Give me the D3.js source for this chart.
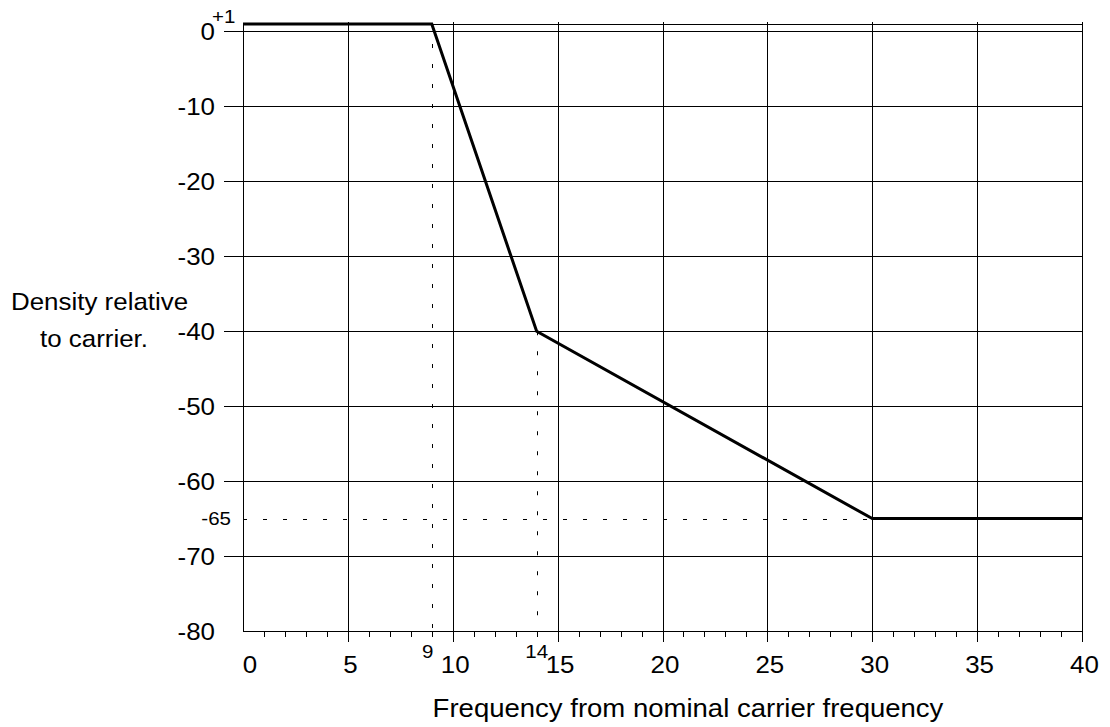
<!DOCTYPE html>
<html>
<head>
<meta charset="utf-8">
<script src="https://cdn.jsdelivr.net/npm/d3@7"></script>
<style>
  body { margin: 0; background: #fff; }
  text { font-family: "Liberation Sans", Arial, sans-serif; fill: #000; }
</style>
</head>
<body>
<div id="chart"></div>
<script>
// Spectral mask: frequency offset vs relative density
const freqs = [0, 9, 14, 30, 40];
const density = [1, 1, -40, -65, -65];

const xTicks = [0, 5, 10, 15, 20, 25, 30, 35, 40];
const yTicks = [0, -10, -20, -30, -40, -50, -60, -70, -80];
const markX = [9, 14];
const markY = [-65];

const W = 1110, H = 727;
const margin = {top: 24, right: 28, bottom: 96, left: 243};
const stretch = 1.08; // the reference text is a little wider than plain Arial

const svg = d3.select("#chart").append("svg")
    .attr("width", W)
    .attr("height", H);

const x = d3.scaleLinear().domain([0, 40]).range([margin.left, W - margin.right]);
const y = d3.scaleLinear().domain([-80, 1]).range([H - margin.bottom, margin.top]);

const px = v => Math.round(v) + 0.5;

// place a text with a horizontal stretch around its anchor point
function label(g, tx, ty, str, size, anchor) {
    return g.append("text")
        .attr("transform", "translate(" + tx + "," + ty + ") scale(" + stretch + ",1)")
        .attr("text-anchor", anchor || "start")
        .attr("font-size", size)
        .text(str);
}

// vertical grid lines (every 5) with tick extending below axis
svg.append("g").selectAll("line")
    .data(xTicks.filter(d => d > 0))
    .join("line")
    .attr("x1", d => px(x(d))).attr("x2", d => px(x(d)))
    .attr("y1", y(1) - 2).attr("y2", y(-80) + 11)
    .attr("stroke", "#000").attr("stroke-width", 1);

// minor ticks every 1
svg.append("g").selectAll("line")
    .data(d3.range(1, 40).filter(d => d % 5 !== 0))
    .join("line")
    .attr("x1", d => px(x(d))).attr("x2", d => px(x(d)))
    .attr("y1", y(-80)).attr("y2", y(-80) + 6)
    .attr("stroke", "#000");

// horizontal grid lines with tick extending left
svg.append("g").selectAll("line")
    .data(yTicks.filter(d => d > -80).concat([1]))
    .join("line")
    .attr("x1", d => d === 1 ? x(0) : x(0) - 19).attr("x2", x(40) + 1)
    .attr("y1", d => px(y(d))).attr("y2", d => px(y(d)))
    .attr("stroke", "#000");

// axes frame
svg.append("line")
    .attr("x1", px(x(0))).attr("x2", px(x(0)))
    .attr("y1", y(1)).attr("y2", px(y(-80)))
    .attr("stroke", "#000");
svg.append("line")
    .attr("x1", x(0)).attr("x2", x(40) + 1)
    .attr("y1", px(y(-80))).attr("y2", px(y(-80)))
    .attr("stroke", "#000");

// y tick labels
const yLab = svg.append("g");
yTicks.forEach(d => label(yLab, 215, y(d) + 9, d, 24, "end"));

// x tick labels
const xLab = svg.append("g");
xTicks.forEach(d => label(xLab, x(d) + (d === 0 ? 7 : 2.5), 673, d, 24, "middle"));

// dashed reference lines
svg.append("line")
    .attr("x1", px(x(9))).attr("x2", px(x(9)))
    .attr("y1", y(1)).attr("y2", y(-80))
    .attr("stroke", "#000").attr("stroke-dasharray", "4,16");
svg.append("line")
    .attr("x1", px(x(14))).attr("x2", px(x(14)))
    .attr("y1", y(-40)).attr("y2", y(-80))
    .attr("stroke", "#000").attr("stroke-dasharray", "4,16");
svg.append("line")
    .attr("x1", x(0)).attr("x2", x(30))
    .attr("y1", px(y(-65))).attr("y2", px(y(-65)))
    .attr("stroke", "#000").attr("stroke-dasharray", "4,16");

// small marker labels
const mLab = svg.append("g");
markX.forEach(d => label(mLab, x(d) - (d === 9 ? 4 : 0), 658, d, 19, "middle"));
markY.forEach(d => label(mLab, 231, y(d) + 6, d, 19, "end"));
label(mLab, 212, 23, "+1", 19, "start");

// data line
svg.append("path")
    .datum(freqs.map((f, i) => [f, density[i]]))
    .attr("fill", "none")
    .attr("stroke", "#000")
    .attr("stroke-width", 3)
    .attr("d", d3.line().x(d => x(d[0])).y(d => y(d[1])));

// axis titles
label(svg, 11, 310, "Density relative", 24, "start");
label(svg, 40, 347, "to carrier.", 24, "start");
label(svg, 688, 717, "Frequency from nominal carrier frequency", 25.5, "middle");
</script>
</body>
</html>
